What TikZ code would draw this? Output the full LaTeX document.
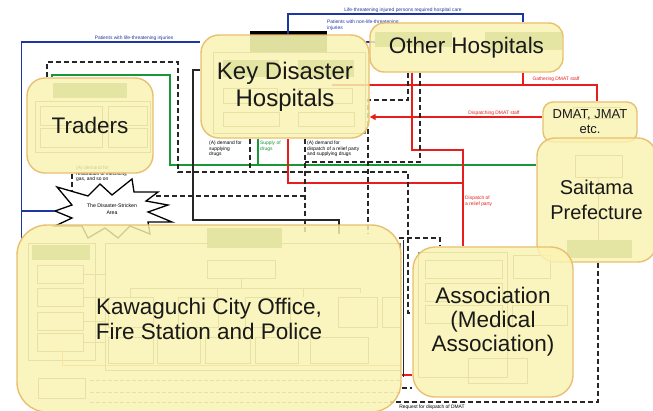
\documentclass[tikz,border=0pt]{standalone}
\usepackage{fontspec}
\setmainfont{Liberation Sans}
\usetikzlibrary{positioning,calc,arrows.meta}
\pgfdeclarelayer{back}
\pgfsetlayers{back,main}
\definecolor{boxfill}{RGB}{250,243,178}
\definecolor{boxedge}{RGB}{232,192,112}
\definecolor{lblue}{RGB}{30,55,160}
\definecolor{lgreen}{RGB}{25,150,55}
\definecolor{lred}{RGB}{232,30,30}
\definecolor{hdr}{RGB}{120,165,90}
\definecolor{hdrdark}{RGB}{95,135,70}
\definecolor{faint}{RGB}{145,140,95}
\tikzset{
  bigbox/.style={draw=boxedge,line width=1.4pt,fill=boxfill,fill opacity=.83,text opacity=1,
    rounded corners=18pt,text=black!90,align=center,inner sep=0pt},
  bluel/.style={draw=lblue,line width=1.3pt},
  greenl/.style={draw=lgreen,line width=1.4pt},
  redl/.style={draw=lred,line width=1.4pt},
  blackl/.style={draw=black!85,line width=1.3pt},
  dashl/.style={draw=black!85,line width=1.4pt,dash pattern=on 5pt off 3pt},
  tinytxt/.style={font=\fontsize{4.9}{5.6}\selectfont,inner sep=0pt,align=left},
  inbox/.style={draw=faint,line width=.8pt},
  hdrbox/.style={fill=hdr,draw=none},
}
\begin{document}
\begin{tikzpicture}[x=1pt,y=-1pt]
  \useasboundingbox (0,0) rectangle (653,410);
  \clip (0,0) rectangle (653,410);

  % big boxes
  \node[bigbox,minimum width=126pt,minimum height=95pt,font=\fontsize{22.5}{25}\selectfont] (traders) at (90,125.5) {Traders};
  \node[bigbox,minimum width=168pt,minimum height=103pt,font=\fontsize{24}{27}\selectfont] (keyhosp) at (285,86.5) {Key Disaster\\Hospitals};
  \node[bigbox,minimum width=193pt,minimum height=49pt,rounded corners=14pt,font=\fontsize{22.5}{25}\selectfont] (otherhosp) at (466.5,47.5) {Other Hospitals};
  \node[bigbox,minimum width=94pt,minimum height=40pt,rounded corners=10pt,font=\fontsize{13}{15}\selectfont] (dmat) at (590,122) {DMAT, JMAT\\etc.};
  \node[bigbox,minimum width=119pt,minimum height=124pt,font=\fontsize{20}{25}\selectfont] (saitama) at (596.5,200) {Saitama\\Prefecture};
  \node[bigbox,minimum width=384pt,minimum height=187pt,rounded corners=30pt,font=\fontsize{22.5}{25}\selectfont] (kawa) at (209,318.5) {Kawaguchi City Office,\\Fire Station and Police};
  \node[bigbox,minimum width=160pt,minimum height=150pt,rounded corners=22pt,font=\fontsize{22.5}{24}\selectfont] (assoc) at (493,322) {Association\\(Medical\\Association)};

  \begin{pgfonlayer}{back}
  \clip (0,0) rectangle (653,410);
  \fill[white] (0,0) rectangle (653,410);
  % inner parts, seen through the boxes
  \fill[hdrbox] (53,83) rectangle (127,98);
  \draw[inbox] (35,101) rectangle (150,152);
  \foreach \yy in {106,128}
    \draw[inbox] (40,\yy) rectangle ++(62,19) (108,\yy) rectangle ++(39,19);
  \fill[hdrdark] (250,33) rectangle (327,52);
  \draw[black,line width=3.5pt] (250,33) -- (327,33);
  \draw[inbox] (213,52) rectangle (365,133);
  \foreach \xx in {223,298} {
    \fill[hdrbox] (\xx,60) rectangle ++(56,17);
    \draw[inbox] (\xx,88) rectangle ++(54,15) (\xx,112) rectangle ++(56,14);
  }
  \fill[hdrbox] (375,32) rectangle (452,47);
  \fill[hdrbox] (485,32) rectangle (562,50);
  \draw[inbox] (573,107) rectangle (620,118);
  \draw[inbox] (575,155) rectangle (622,177);
  \draw[inbox] (598,177) -- (598,240);
  \fill[hdrbox] (567,240) rectangle (632,258);
  \fill[hdrbox] (207,228) rectangle (282,248);
  \draw[inbox] (28,243) rectangle (95,360);
  \fill[hdrbox] (32,245) rectangle (90,260);
  \foreach \yy in {265,288,312,333} {
    \draw[inbox] (37,\yy) rectangle ++(46,18);
    \draw[inbox] (83,\yy+9) -- (105,\yy+9);
  }
  \draw[inbox] (38,378) rectangle (85,398);
  \draw[inbox] (105,243) rectangle (400,370);
  \draw[inbox] (207,260) rectangle (275,278);
  \draw[inbox] (241,278) -- (241,288);
  \draw[inbox] (130,297) |- (360,288) -- (360,293);
  \foreach \xx in {217,303}
    \draw[inbox] (\xx,288) -- (\xx,297);
  \foreach \xx/\ww in {108/45,178/40,245/45,338/39,382/18}
    \draw[inbox] (\xx,297) rectangle ++(\ww,30);
  \foreach \xx/\ww in {108/45,157/43,205/45,255/43,310/58}
    \draw[inbox] (\xx,337) rectangle ++(\ww,26);
  \draw[orange!80,line width=.9pt] (62,350) -- (62,365) -- (400,365);
  \foreach \yy in {380,392,402}
    \draw[faint,line width=.8pt,dash pattern=on 4pt off 2pt] (90,\yy) -- (400,\yy);
  \draw[inbox] (418,252) rectangle (507,377);
  \foreach \yy in {260,283,305}
    \draw[inbox] (425,\yy) rectangle ++(77,18);
  \draw[inbox] (513,255) rectangle (550,278);
  \draw[inbox] (512,305) rectangle (567,325);
  \draw[inbox] (468,358) rectangle (527,383);

  % the disaster-stricken area
  \draw[line width=1.3pt,fill=white,line join=miter]
    (55,211) -- (72,205) -- (57,187) -- (88,196) -- (100,184) -- (112,195) -- (132,179)
    -- (134,192) -- (158,192) -- (146,201) -- (168,205) -- (148,212) -- (172,222)
    -- (148,222) -- (150,234) -- (130,226) -- (118,238) -- (105,228) -- (88,238)
    -- (82,226) -- (55,226) -- (72,218) -- cycle;
  \node[tinytxt,align=center,font=\fontsize{5.2}{7.5}\selectfont] (area) at (112,209) {The Disaster-Stricken\\Area};
  \coordinate (areatip) at (55,211);
  \coordinate (areatop) at (72,191);
  \coordinate (areaedge) at (156,196);

  % blue
  \draw[bluel] ($(kawa.north west)+(5,14)$) |- (keyhosp.west |- 0,42);
  \draw[bluel] (areatip) -- (areatip -| 22,0);
  \draw[bluel] (keyhosp.north -| 288,0) -- (288,14) -| (otherhosp.north -| 523,0);
  \draw[bluel] ($(keyhosp.east |- 0,42)+(-4,0)$) -- ($(otherhosp.west |- 0,42)+(6,0)$);
  % green
  \draw[greenl] (traders.north -| 52,0) |- (170,75) |- (saitama.west |- 0,165);
  \draw[greenl] (keyhosp.south -| 258,0) -- (258,165);
  % red
  \draw[redl] ($(keyhosp.east |- 0,85)+(-38,0)$) -- (597,85) -- (dmat.north -| 597,0);
  \draw[redl] (otherhosp.south -| 523,0) -- (523,85);
  \draw[redl,-{Triangle[length=6pt,width=6pt]}] (dmat.west |- 0,117) -- (keyhosp.east |- 0,117);
  \draw[redl] (otherhosp.south -| 412,0) |- (463,150) -- (assoc.north -| 463,0);
  \draw[redl] (keyhosp.south -| 288,0) |- (463,183);
  \draw[redl] (kawa.east |- 0,375) -- (assoc.west |- 0,375);
  % black
  \draw[blackl] (keyhosp.west |- 0,70) -| (193,220) -| ($(kawa.north -| 339,0)+(0,10)$);
  \draw[blackl] ($(kawa.east |- 0,240)+(2,0)$) -- ($(kawa.east |- 0,377)+(2,0)$);
  \draw[dashl] (traders.north -| 47,0) |- (178,62) |- (408,172) |- (assoc.west |- 0,313);
  \draw[dashl] (keyhosp.south -| 250,0) -- (250,172);
  \draw[dashl] (keyhosp.south -| 305,0) -- ($(kawa.north -| 305,0)+(0,10)$);
  \draw[dashl] (otherhosp.south -| 420,0) |- (305,162);
  \draw[dashl] (otherhosp.south -| 408,0) |- (368,100) -- ($(kawa.north -| 368,0)+(0,10)$);
  \draw[dashl] (areaedge) -- (305,196);
  \draw[dashl] (traders.south -| 72,0) -- (areatop);
  \draw[dashl] (saitama.south -| 598,0) |- ($(kawa.east |- 0,402)+(-12,0)$);
  \draw[dashl] ($(kawa.east |- 0,238)+(-3,0)$) -| (assoc.north -| 440,0);
  \draw[dashl] (kawa.east |- 0,388) -- (assoc.west |- 0,388);

  % labels on the connectors
  \node[tinytxt,text=lblue] (lbpat) at (134,38) {Patients with life-threatening injuries};
  \node[tinytxt,text=lblue] (lblife) at (403,10) {Life-threatening injured persons required hospital care};
  \node[tinytxt,text=lblue,anchor=north west] (lbnon) at (327,20) {Patients with non-life-threatening\\injuries};
  \node[tinytxt,text=lred] (lbgath) at (556,79) {Gathering DMAT staff};
  \node[tinytxt,text=lred] (lbdisp) at (494,113) {Dispatching DMAT staff};
  \node[tinytxt,text=lred,anchor=north west] (lbrelief) at (465,196) {Dispatch of\\a relief party};
  \node[tinytxt,anchor=north west] (lbdrug) at (209,141) {(A) demand for\\supplying\\drugs};
  \node[tinytxt,text=lgreen,anchor=north west] (lbsup) at (260,141) {Supply of\\drugs};
  \node[tinytxt,anchor=north west] (lbdem) at (307,141) {(A) demand for\\dispatch of a relief party\\and supplying drugs};
  \node[tinytxt,anchor=north west] (lbgas) at (76,166) {(A) demand for\\restoration of electricity,\\gas, and so on};
  \node[tinytxt] (lbreq) at (432,407) {Request for dispatch of DMAT};
  \end{pgfonlayer}
\end{tikzpicture}
\end{document}
